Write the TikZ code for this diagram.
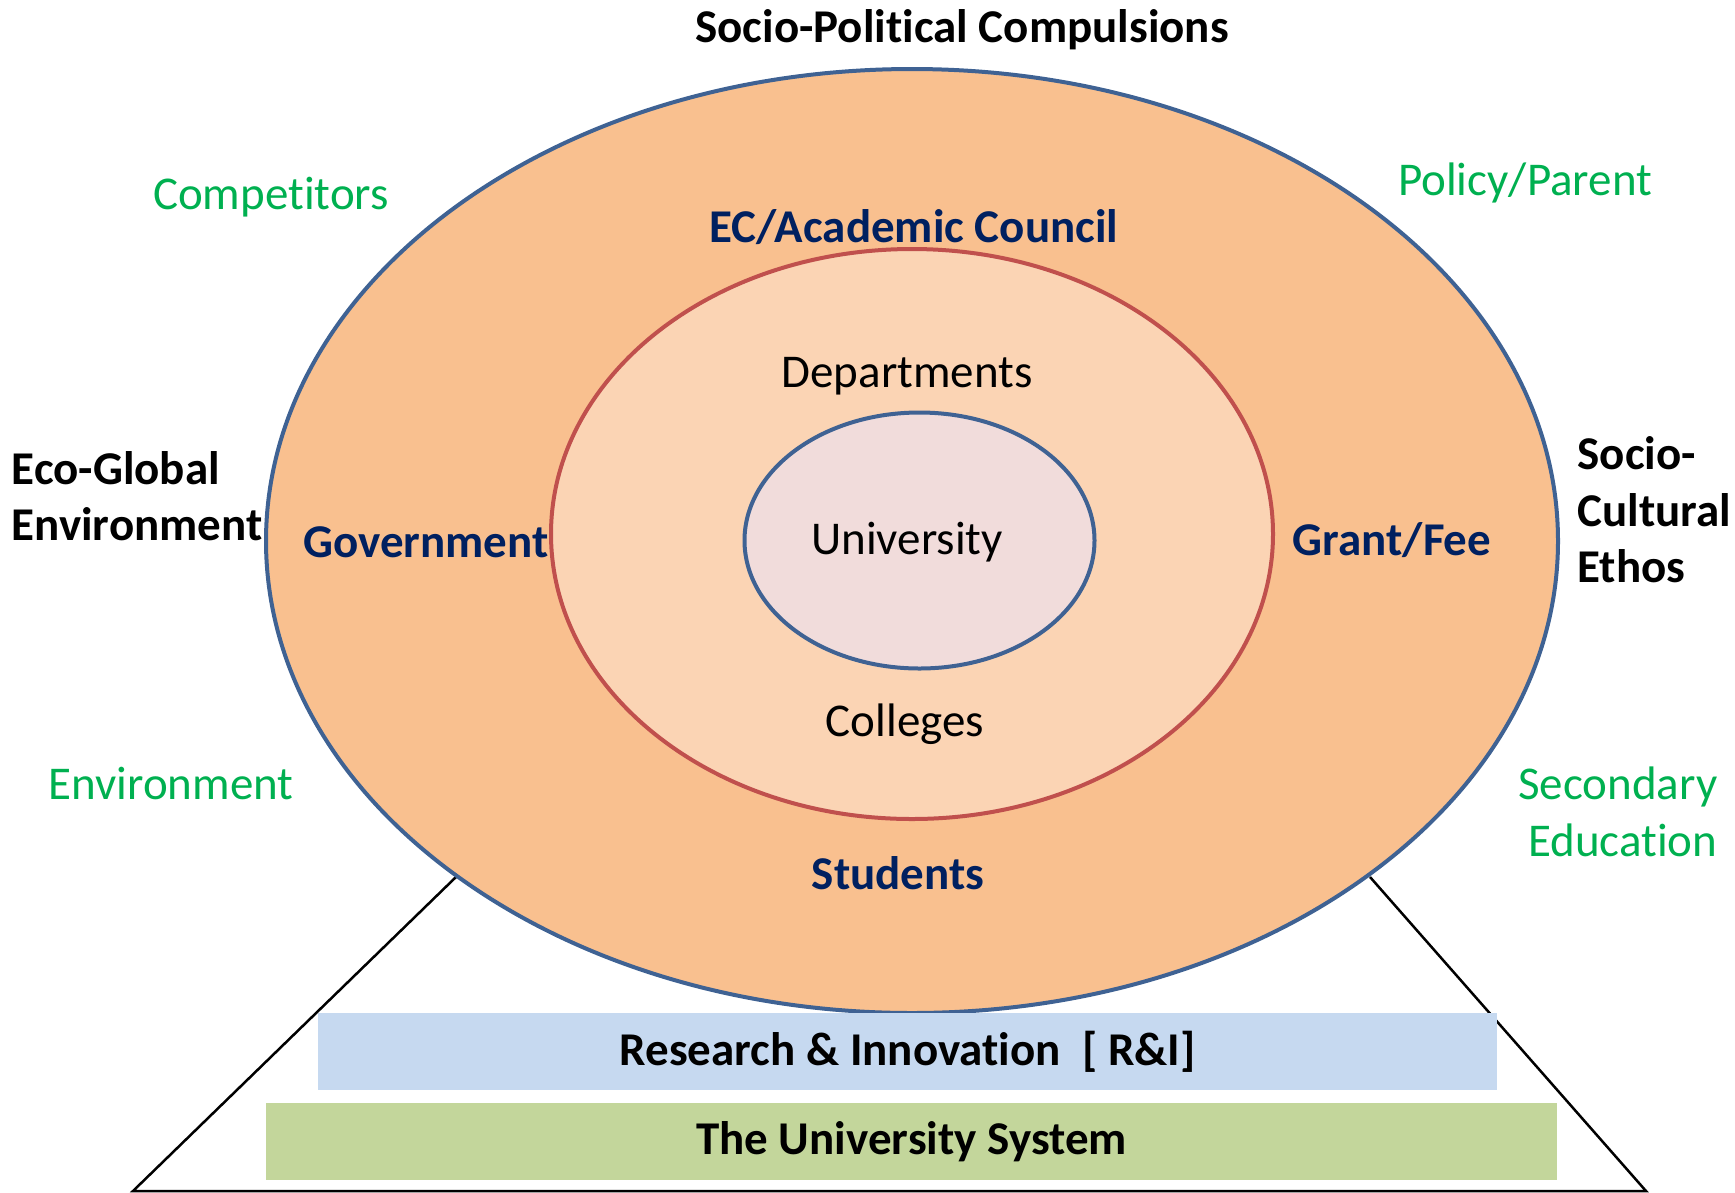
\documentclass[tikz,border=0pt]{standalone}
\usepackage{fontspec}
\setmainfont{Carlito}[Ligatures=NoCommon,Contextuals=NoAlternate]
\usetikzlibrary{shapes.geometric}
\definecolor{ringblue}{HTML}{3F6293}
\definecolor{ringred}{HTML}{C0504D}
\definecolor{outerfill}{HTML}{F9C08F}
\definecolor{midfill}{HTML}{FBD4B4}
\definecolor{corefill}{HTML}{F1DCDB}
\definecolor{greentext}{HTML}{00B050}
\definecolor{navytext}{HTML}{002060}
\definecolor{barblue}{HTML}{C6D9F0}
\definecolor{bargreen}{HTML}{C3D69B}
\begin{document}
\begin{tikzpicture}[x=0.3pt,y=-0.3pt,
    font=\fontsize{14.1}{16.9}\selectfont,
    ring/.style={ellipse,inner sep=0pt,line width=1.2pt},
    force/.style={font=\fontsize{14.1}{16.9}\selectfont\bfseries,text=black},
    actor/.style={text=greentext},
    body/.style={font=\fontsize{14.1}{16.9}\selectfont\bfseries,text=navytext},
    unit/.style={text=black},
    bar/.style={inner sep=0pt,minimum height=23.1pt,font=\fontsize{14.1}{16.9}\selectfont\bfseries}]
    \useasboundingbox (0,0) rectangle (1735,1192);

    % Pyramid behind the rings
    \coordinate (lefttop) at (456,877);
    \coordinate (leftfoot) at (133,1191);
    \coordinate (rightfoot) at (1646,1191);
    \coordinate (righttop) at (1370,877);
    \draw[line width=0.75pt] (lefttop) -- (leftfoot) -- (rightfoot) -- (righttop);

    % Rings
    \node[ring,draw=ringblue,fill=outerfill,minimum width=387.6pt,minimum height=283.2pt] (outer) at (912,541) {};
    \node[ring,draw=ringred,fill=midfill,minimum width=216.6pt,minimum height=171pt] (middle) at (912,534) {};
    \node[ring,draw=ringblue,fill=corefill,minimum width=105pt,minimum height=76.8pt] (core) at (919.5,540.5) {};

    % Outside forces
    \node[force] (sociopol) at (962,30) {Socio-Political Compulsions};
    \node[force,anchor=west,align=left,inner sep=0pt] (ecoglobal) at (11,496) {Eco-Global\\Environment};
    \node[force,anchor=west,align=left,inner sep=0pt] (sociocult) at (1577,510) {Socio-\\Cultural\\Ethos};

    % Stakeholders
    \node[actor] (competitors) at (271,197) {Competitors};
    \node[actor] (policy) at (1525,183) {Policy/Parent};
    \node[actor] (environment) at (171,783) {Environment};
    \node[actor,anchor=east,align=right,inner sep=0pt] (secondary) at (1718,812) {Secondary\\Education};

    % Outer ring labels
    \node[body] (council) at (914,227) {EC/Academic Council};
    \node[body] (government) at (426,542) {Government};
    \node[body] (grant) at (1392,540) {Grant/Fee};
    \node[body] (students) at (898,873) {Students};

    % Inner labels
    \node[unit] (departments) at (907,376) {Departments};
    \node[unit] (university) at (907,542) {University};
    \node[unit] (colleges) at (905,724) {Colleges};

    % Base bars
    \node[bar,fill=barblue,minimum width=353.7pt] (research) at (907.5,1051.5) {Research \& Innovation\ \ [ R\&I]};
    \node[bar,fill=bargreen,minimum width=387.3pt] (system) at (911.5,1141.5) {The University System};
\end{tikzpicture}
\end{document}
